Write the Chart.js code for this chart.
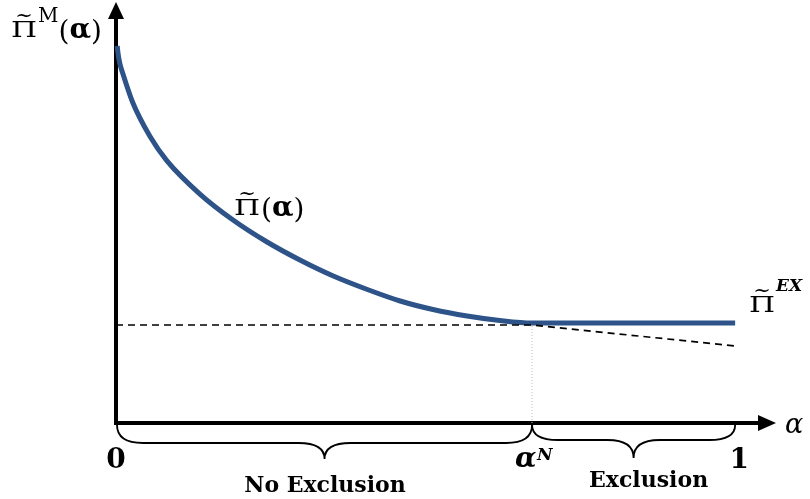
<!DOCTYPE html>
<html>
<head>
<meta charset="utf-8">
<script src="https://cdn.jsdelivr.net/npm/chart.js@4.4.1/dist/chart.umd.min.js"></script>
<style>
  html, body { margin: 0; padding: 0; background: #fff; }
  #wrap { width: 810px; height: 499px; }
</style>
</head>
<body>
<div id="wrap"><canvas id="myChart" width="810" height="499"></canvas></div>
<script>
// values (alpha on x, profit on y)
const alphaN = 0.672;
const curveX = [0.002, 0.003, 0.006, 0.011, 0.027, 0.055, 0.082, 0.136, 0.189, 0.244, 0.297, 0.351, 0.406, 0.459, 0.512, 0.567, 0.620, 0.672, 1.0];
const curveY = [3.77, 3.71, 3.60, 3.495, 3.205, 2.865, 2.624, 2.287, 2.03, 1.81, 1.63, 1.47, 1.335, 1.22, 1.135, 1.07, 1.025, 1.00, 1.00];
const dashX = [0, 0.672, 1.0];
const dashY = [0.98, 0.98, 0.77];
const tickX = [0, alphaN, 1];
const tickText = ['0', '\u03B1', '1'];
const regions = ['No Exclusion', 'Exclusion'];

const blue = '#2d5389';

function pts(xs, ys) {
  return xs.map((x, i) => ({ x: x, y: ys[i] }));
}

// Pi with a tilde on top, an optional superscript and an optional "(α)"
function piLabel(ctx, x, y, sup, supFont, supRaise, withArg) {
  ctx.save();
  ctx.translate(x, y);
  ctx.scale(1.3, 1);
  ctx.font = '23px "DejaVu Serif"';
  ctx.fillText('\u03A0', 0, 0);
  const w = ctx.measureText('\u03A0').width * 1.3;
  ctx.restore();
  ctx.save();
  ctx.font = '21px "DejaVu Serif"';
  ctx.textAlign = 'center';
  ctx.fillText('~', x + w / 2, y - 15);
  ctx.restore();
  let cx = x + w + 1;
  if (sup) {
    ctx.font = supFont;
    ctx.fillText(sup, cx, y - supRaise);
    cx += ctx.measureText(sup).width;
  }
  if (withArg) {
    ctx.font = '28px "DejaVu Serif"';
    ctx.fillText('(', cx, y + 3);
    cx += ctx.measureText('(').width;
    ctx.font = 'bold 28px "DejaVu Serif"';
    ctx.fillText('\u03B1', cx, y + 1);
    cx += ctx.measureText('\u03B1').width;
    ctx.font = '28px "DejaVu Serif"';
    ctx.fillText(')', cx, y + 3);
  }
}

function brace(ctx, xa, xb, ya, yb, yt) {
  const mid = (xa + xb) / 2;
  const r = 26;
  ctx.beginPath();
  ctx.moveTo(xa, ya);
  ctx.quadraticCurveTo(xa, yb, xa + r, yb);
  ctx.lineTo(mid - r, yb);
  ctx.quadraticCurveTo(mid, yb, mid, yt);
  ctx.quadraticCurveTo(mid, yb, mid + r, yb);
  ctx.lineTo(xb - r, yb);
  ctx.quadraticCurveTo(xb, yb, xb, ya);
  ctx.stroke();
}

const axesPlugin = {
  id: 'axesPlugin',
  beforeDatasetsDraw(chart) {
    const { ctx, scales: { x, y } } = chart;
    const x0 = x.getPixelForValue(0);
    const y0 = y.getPixelForValue(0);
    const xEnd = x.getPixelForValue(x.max);
    const yTop = y.getPixelForValue(y.max);
    ctx.save();
    ctx.strokeStyle = '#000';
    ctx.fillStyle = '#000';
    ctx.lineWidth = 4;
    ctx.beginPath();
    ctx.moveTo(x0, y0 + 2);
    ctx.lineTo(x0, yTop + 14);
    ctx.moveTo(x0 - 2, y0);
    ctx.lineTo(xEnd - 14, y0);
    ctx.stroke();
    // arrow heads
    ctx.beginPath();
    ctx.moveTo(x0, yTop);
    ctx.lineTo(x0 - 8, yTop + 17);
    ctx.lineTo(x0 + 8, yTop + 17);
    ctx.closePath();
    ctx.fill();
    ctx.beginPath();
    ctx.moveTo(xEnd, y0);
    ctx.lineTo(xEnd - 18, y0 - 8);
    ctx.lineTo(xEnd - 18, y0 + 8);
    ctx.closePath();
    ctx.fill();
    ctx.restore();
  },
  afterDatasetsDraw(chart) {
    const { ctx, scales: { x, y } } = chart;
    const y0 = y.getPixelForValue(0);
    const px = tickX.map(v => x.getPixelForValue(v));
    ctx.save();
    ctx.fillStyle = '#000';
    ctx.strokeStyle = '#000';
    ctx.lineWidth = 1.8;
    brace(ctx, px[0] + 1, px[1], y0 + 2, y0 + 20, y0 + 36);
    brace(ctx, px[1], px[2], y0 + 2, y0 + 17, y0 + 35);

    ctx.textBaseline = 'alphabetic';
    ctx.textAlign = 'center';
    ctx.font = 'bold 28px "DejaVu Serif"';
    ctx.fillText(tickText[0], px[0], y0 + 45);
    ctx.fillText(tickText[2], px[2] + 4, y0 + 45);
    ctx.font = 'bold 22px "DejaVu Serif"';
    ctx.fillText(regions[0], (px[0] + px[1]) / 2 + 1, y0 + 69);
    ctx.fillText(regions[1], (px[1] + px[2]) / 2 + 15, y0 + 64);

    ctx.textAlign = 'left';
    ctx.font = 'italic bold 28px "DejaVu Serif"';
    ctx.fillText(tickText[1], px[1] - 17, y0 + 44);
    ctx.font = 'italic bold 17px "DejaVu Serif"';
    ctx.fillText('N', px[1] + 5, y0 + 37);

    ctx.font = 'italic 27px "DejaVu Serif"';
    ctx.fillText('\u03B1', 785, y0 + 10);

    // curve labels
    piLabel(ctx, 11, 37, 'M', '20px "DejaVu Serif"', 15, true);
    piLabel(ctx, 234, 215, '', '', 0, true);
    piLabel(ctx, 749, 312, 'EX', 'italic bold 17px "DejaVu Serif"', 21, false);
    ctx.restore();
  }
};

const ctx = document.getElementById('myChart').getContext('2d');
new Chart(ctx, {
  type: 'scatter',
  data: {
    datasets: [
      {
        data: [{ x: alphaN, y: 0 }, { x: alphaN, y: dashY[1] }],
        showLine: true,
        borderColor: '#bdbdbd',
        borderWidth: 1,
        borderDash: [1, 2],
        pointRadius: 0
      },
      {
        data: pts(dashX, dashY),
        showLine: true,
        borderColor: '#000',
        borderWidth: 1.7,
        borderDash: [7, 5],
        pointRadius: 0,
        tension: 0
      },
      {
        data: pts(curveX, curveY),
        showLine: true,
        borderColor: blue,
        borderWidth: 5,
        pointRadius: 0,
        cubicInterpolationMode: 'monotone'
      }
    ]
  },
  options: {
    responsive: false,
    animation: false,
    events: [],
    layout: { padding: { left: 116, right: 34, top: 2, bottom: 76 } },
    plugins: { legend: { display: false }, tooltip: { enabled: false } },
    elements: { line: { borderCapStyle: 'butt' } },
    clip: false,
    scales: {
      x: { type: 'linear', min: 0, max: 1.066, display: false },
      y: { type: 'linear', min: 0, max: 4.21, display: false }
    }
  },
  plugins: [axesPlugin]
});
</script>
</body>
</html>
